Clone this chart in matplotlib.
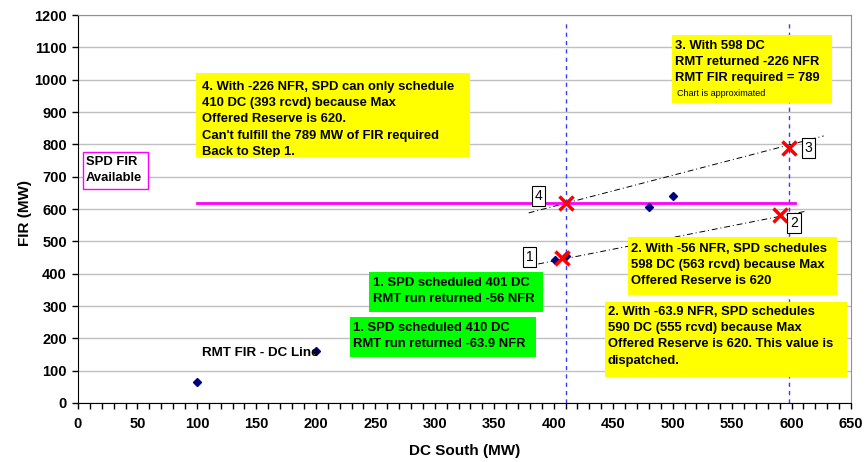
import matplotlib.pyplot as plt
from matplotlib.patches import Rectangle
import numpy as np

plt.rcParams["font.family"] = ["Liberation Sans", "DejaVu Sans"]

# RMT FIR - DC line points (blue diamonds)
rmt_dc = [100, 200, 401, 410, 480, 500]
rmt_fir = [65, 160, 443, 455, 605, 640]

# SPD solve points (red crosses)
spd_dc = [407, 410, 590, 598]
spd_fir = [450, 620, 580, 789]

# SPD FIR available (max offered reserve)
avail_dc = [100, 603]
avail_fir = [620, 620]

# vertical reference lines
vline_dc = [410, 598]
vline_top = 1180

# dash-dot guide lines
guide_lo_dc = [387, 612]
guide_lo_fir = [430, 593]
guide_hi_dc = [379, 627]
guide_hi_fir = [588, 826]

# step numbers
step_labels = ["1", "2", "3", "4"]
step_dc = [380, 602, 614, 387]
step_fir = [452, 557, 789, 640]

W, H = 865, 462
fig = plt.figure(figsize=(W / 100, H / 100), dpi=100)
ax = fig.add_axes([78 / W, 1 - 403 / H, (851 - 78) / W, (403 - 15) / H])

ax.set_xlim(0, 650)
ax.set_ylim(0, 1200)
ax.set_xticks(np.arange(0, 651, 50))
ax.set_xticks(np.arange(0, 651, 10), minor=True)
ax.set_yticks(np.arange(0, 1201, 100))
ax.tick_params(axis="both", which="major", direction="out", length=4, width=1,
               labelsize=10.5)
ax.tick_params(axis="x", which="minor", direction="out", length=4, width=1)
ax.tick_params(axis="x", pad=6)
ax.tick_params(axis="y", pad=4)
for lbl in ax.get_xticklabels() + ax.get_yticklabels():
    lbl.set_fontweight("bold")
ax.yaxis.grid(True, color="#c0c0c0", lw=1)
ax.set_axisbelow(True)
ax.spines["top"].set_color("#909090")
ax.spines["right"].set_color("#909090")
ax.spines["left"].set_color("black")
ax.spines["bottom"].set_color("black")

ax.set_xlabel("DC South (MW)", fontsize=11, fontweight="bold")
ax.set_ylabel("FIR (MW)", fontsize=11, fontweight="bold")
ax.xaxis.set_label_coords(0.5, -0.105)
ax.yaxis.set_label_coords(-0.06, 0.49)

# lines
for x in vline_dc:
    ax.plot([x, x], [0, vline_top], color="#3a3aff", lw=1, ls=(0, (3, 3)), zorder=2)
ax.plot(guide_lo_dc, guide_lo_fir, color="black", lw=0.7, ls=(0, (6, 3, 1, 3)), zorder=2)
ax.plot(guide_hi_dc, guide_hi_fir, color="black", lw=0.7, ls=(0, (6, 3, 1, 3)), zorder=2)
ax.plot(avail_dc, avail_fir, color="#ff00ff", lw=2, zorder=3)

ax.plot(rmt_dc, rmt_fir, ls="none", marker="D", ms=4, color="#000080", zorder=4)
ax.plot(spd_dc, spd_fir, ls="none", marker="x", ms=10, mew=2.5, color="red", zorder=5)

for s, x, y in zip(step_labels, step_dc, step_fir):
    ax.text(x, y, s, fontsize=10, ha="center", va="center", zorder=6,
            bbox=dict(boxstyle="square,pad=0.2", fc="white", ec="black", lw=0.8))

ax.text(104, 155, "RMT FIR - DC Line", fontsize=9.6, fontweight="bold",
        va="center", ha="left", zorder=6)


def pbox(x0, y0, x1, y1, fc, ec="none"):
    r = Rectangle((x0 / W, 1 - y1 / H), (x1 - x0) / W, (y1 - y0) / H,
                  transform=fig.transFigure, fc=fc, ec=ec, lw=1, zorder=7)
    fig.add_artist(r)
    return r


def ptext(x, y, s, size=9.4, weight="bold", clip=None):
    t = fig.text(x / W, 1 - y / H, s, fontsize=size, fontweight=weight,
                 ha="left", va="top", linespacing=1.47, zorder=8)
    if clip is not None:
        t.set_clip_path(clip)
    return t


r4 = pbox(196, 73, 470, 157, "#ffff00")
ptext(202, 81, "4. With -226 NFR, SPD can only schedule\n410 DC (393 rcvd) because Max\n"
      "Offered Reserve is 620.\nCan't fulfill the 789 MW of FIR required\nBack to Step 1.",
      clip=r4)

pbox(672, 35, 832, 103, "#ffff00")
ptext(675, 40, "3. With 598 DC\nRMT returned -226 NFR\nRMT FIR required = 789")
ptext(677, 89, "Chart is approximated", size=6.5, weight="normal")

pbox(628, 237, 837, 295, "#ffff00")
ptext(631, 243, "2. With -56 NFR, SPD schedules\n598 DC (563 rcvd) because Max\n"
      "Offered Reserve is 620")

pbox(605, 302, 847, 377, "#ffff00")
ptext(608, 306, "2. With -63.9 NFR, SPD schedules\n590 DC (555 rcvd) because Max\n"
      "Offered Reserve is 620. This value is\ndispatched.")

pbox(369, 272, 543, 312, "#00ff00")
ptext(373, 277, "1. SPD scheduled 401 DC\nRMT run returned -56 NFR")

pbox(350, 317, 536, 357, "#00ff00")
ptext(353, 322, "1. SPD scheduled 410 DC\nRMT run returned -63.9 NFR")

pbox(83, 152, 148, 189, "white", ec="#ff00ff")
ptext(86, 156, "SPD FIR\nAvailable")

fig.savefig("out.png", dpi=100)
